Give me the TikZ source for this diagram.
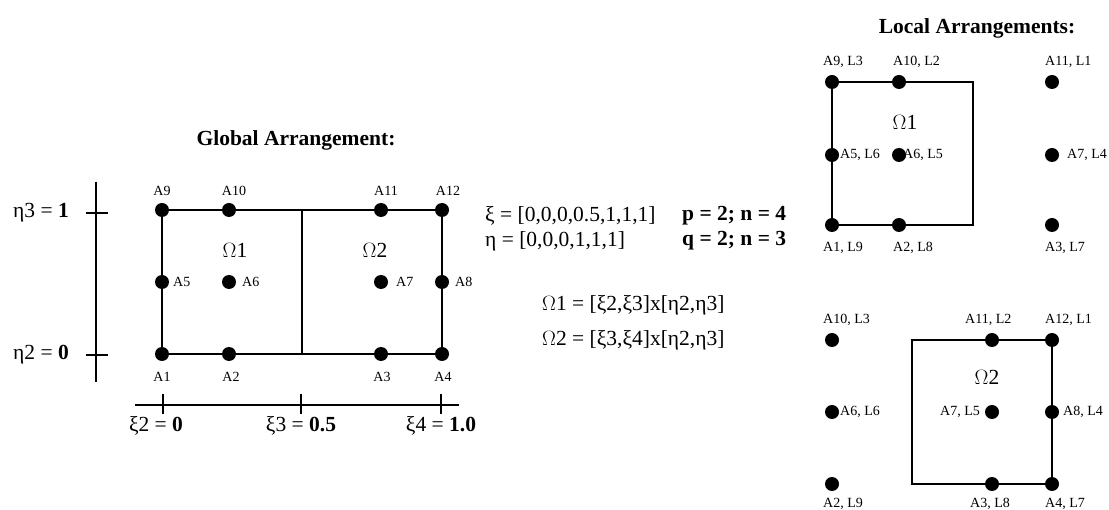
\documentclass[tikz,border=0pt]{standalone}
\usepackage{fontspec}
\setmainfont{Liberation Serif}
\begin{document}
\begin{tikzpicture}[x=1pt,y=-1pt,
  dot/.style={circle,fill=black,inner sep=0pt,minimum size=14pt},
  lbl/.style={font=\fontsize{14}{16}\selectfont,inner sep=0pt},
  txt/.style={font=\fontsize{21.5}{25}\selectfont,inner sep=0pt},
  ttl/.style={font=\fontsize{21.5}{25}\selectfont\bfseries,inner sep=0pt},
  bline/.style={line width=1.4pt},
  axis/.style={line width=1.3pt}]
\useasboundingbox (0,0) rectangle (1109,510);

% ---------- global arrangement ----------
\node[ttl] (gtitle) at (296,140) {Global Arrangement:};

\node[dot] (g9)  at (162,210) {};
\node[dot] (g10) at (229,210) {};
\node[dot] (g11) at (381,210) {};
\node[dot] (g12) at (442,210) {};
\node[dot] (g5)  at (162,282) {};
\node[dot] (g6)  at (229,282) {};
\node[dot] (g7)  at (381,282) {};
\node[dot] (g8)  at (442,282) {};
\node[dot] (g1)  at (162,354) {};
\node[dot] (g2)  at (229,354) {};
\node[dot] (g3)  at (381,354) {};
\node[dot] (g4)  at (442,354) {};
\coordinate (gdt) at (302,210);
\coordinate (gdb) at (302,354);

\draw[bline] (g9.center) -- (g12.center) -- (g4.center) -- (g1.center) -- cycle;
\draw[bline] (gdt) -- (gdb);

\node[lbl] (lg9)  at (162,191) {A9};
\node[lbl] (lg10) at (234,191) {A10};
\node[lbl] (lg11) at (386,191) {A11};
\node[lbl] (lg12) at (448,191) {A12};
\node[lbl,anchor=west] (lg5) at (173,282) {A5};
\node[lbl,anchor=west] (lg6) at (242,282) {A6};
\node[lbl,anchor=west] (lg7) at (396,282) {A7};
\node[lbl,anchor=west] (lg8) at (455,282) {A8};
\node[lbl] (lg1) at (162,377) {A1};
\node[lbl] (lg2) at (231,377) {A2};
\node[lbl] (lg3) at (382,377) {A3};
\node[lbl] (lg4) at (443,377) {A4};

\node[txt] (gom1) at (235,250) {$\Omega$1};
\node[txt] (gom2) at (375,250) {$\Omega$2};

% vertical parameter axis
\coordinate (vt) at (96,182);
\coordinate (vb) at (96,382);
\draw[axis] (vt) -- (vb);
\coordinate (vt1a) at (86,213); \coordinate (vt1b) at (108,213);
\coordinate (vt0a) at (86,355); \coordinate (vt0b) at (108,355);
\draw[axis] (vt1a) -- (vt1b);
\draw[axis] (vt0a) -- (vt0b);
\node[txt,anchor=east] (eta3) at (69,213) {η3 = \textbf{1}};
\node[txt,anchor=east] (eta2) at (69,355) {η2 = \textbf{0}};

% horizontal parameter axis
\coordinate (hl) at (135,405);
\coordinate (hr) at (459,405);
\draw[axis] (hl) -- (hr);
\coordinate (h2a) at (163,394); \coordinate (h2b) at (163,414);
\coordinate (h3a) at (301,394); \coordinate (h3b) at (301,414);
\coordinate (h4a) at (441,394); \coordinate (h4b) at (441,414);
\draw[axis] (h2a) -- (h2b);
\draw[axis] (h3a) -- (h3b);
\draw[axis] (h4a) -- (h4b);
\node[txt] (xi2) at (156,426) {ξ2 = \textbf{0}};
\node[txt] (xi3) at (301,426) {ξ3 = \textbf{0.5}};
\node[txt] (xi4) at (441,426) {ξ4 = \textbf{1.0}};

% ---------- knot vectors and elements ----------
\node[txt,anchor=west] (kxi)  at (485,216) {ξ = [0,0,0,0.5,1,1,1]};
\node[txt,anchor=west] (keta) at (485,241) {η = [0,0,0,1,1,1]};
\node[txt,anchor=west] (kp)   at (682,216) {\textbf{p = 2; n = 4}};
\node[txt,anchor=west] (kq)   at (682,241) {\textbf{q = 2; n = 3}};
\node[txt,anchor=west] (el1)  at (542,305) {$\Omega$1 = [ξ2,ξ3]x[η2,η3]};
\node[txt,anchor=west] (el2)  at (542,340) {$\Omega$2 = [ξ3,ξ4]x[η2,η3]};

% ---------- local arrangements ----------
\node[ttl] (ltitle) at (977,28) {Local Arrangements:};

% element 1
\node[dot] (a9)  at (832,82)  {};
\node[dot] (a10) at (899,82)  {};
\node[dot] (a11) at (1052,82) {};
\node[dot] (a5)  at (832,155) {};
\node[dot] (a6)  at (899,155) {};
\node[dot] (a7)  at (1052,155) {};
\node[dot] (a1)  at (832,225) {};
\node[dot] (a2)  at (899,225) {};
\node[dot] (a3)  at (1052,225) {};
\coordinate (e1tr) at (973,82);
\coordinate (e1br) at (973,225);
\draw[bline] (a9.center) -- (a10.center) -- (e1tr) -- (e1br) -- (a2.center) -- (a1.center) -- (a5.center) -- (a9.center);

\node[lbl,anchor=west] (la9)  at (823,62)  {A9, L3};
\node[lbl,anchor=west] (la10) at (893,62)  {A10, L2};
\node[lbl,anchor=west] (la11) at (1045,62) {A11, L1};
\node[lbl,anchor=west] (la5)  at (840,155) {A5, L6};
\node[lbl,anchor=west] (la6)  at (903,155) {A6, L5};
\node[lbl,anchor=west] (la7)  at (1067,155) {A7, L4};
\node[lbl,anchor=west] (la1)  at (823,248) {A1, L9};
\node[lbl,anchor=west] (la2)  at (893,248) {A2, L8};
\node[lbl,anchor=west] (la3)  at (1045,248) {A3, L7};
\node[txt] (lom1) at (905,122) {$\Omega$1};

% element 2
\node[dot] (b10) at (832,340)  {};
\node[dot] (b11) at (992,340)  {};
\node[dot] (b12) at (1052,340) {};
\node[dot] (b6)  at (832,412)  {};
\node[dot] (b7)  at (992,412)  {};
\node[dot] (b8)  at (1052,412) {};
\node[dot] (b2)  at (832,484)  {};
\node[dot] (b3)  at (992,484)  {};
\node[dot] (b4)  at (1052,484) {};
\coordinate (e2tl) at (912,340);
\coordinate (e2bl) at (912,484);
\draw[bline] (b11.center) -- (b12.center) -- (b8.center) -- (b4.center) -- (b3.center) -- (e2bl) -- (e2tl) -- (b11.center);

\node[lbl,anchor=west] (lb10) at (823,320)  {A10, L3};
\node[lbl,anchor=west] (lb11) at (965,320)  {A11, L2};
\node[lbl,anchor=west] (lb12) at (1045,320) {A12, L1};
\node[lbl,anchor=west] (lb6)  at (840,412)  {A6, L6};
\node[lbl,anchor=east] (lb7)  at (980,412)  {A7, L5};
\node[lbl,anchor=west] (lb8)  at (1063,412) {A8, L4};
\node[lbl,anchor=west] (lb2)  at (823,504)  {A2, L9};
\node[lbl,anchor=west] (lb3)  at (970,504)  {A3, L8};
\node[lbl,anchor=west] (lb4)  at (1045,504) {A4, L7};
\node[txt] (lom2) at (987,377) {$\Omega$2};
\end{tikzpicture}
\end{document}
